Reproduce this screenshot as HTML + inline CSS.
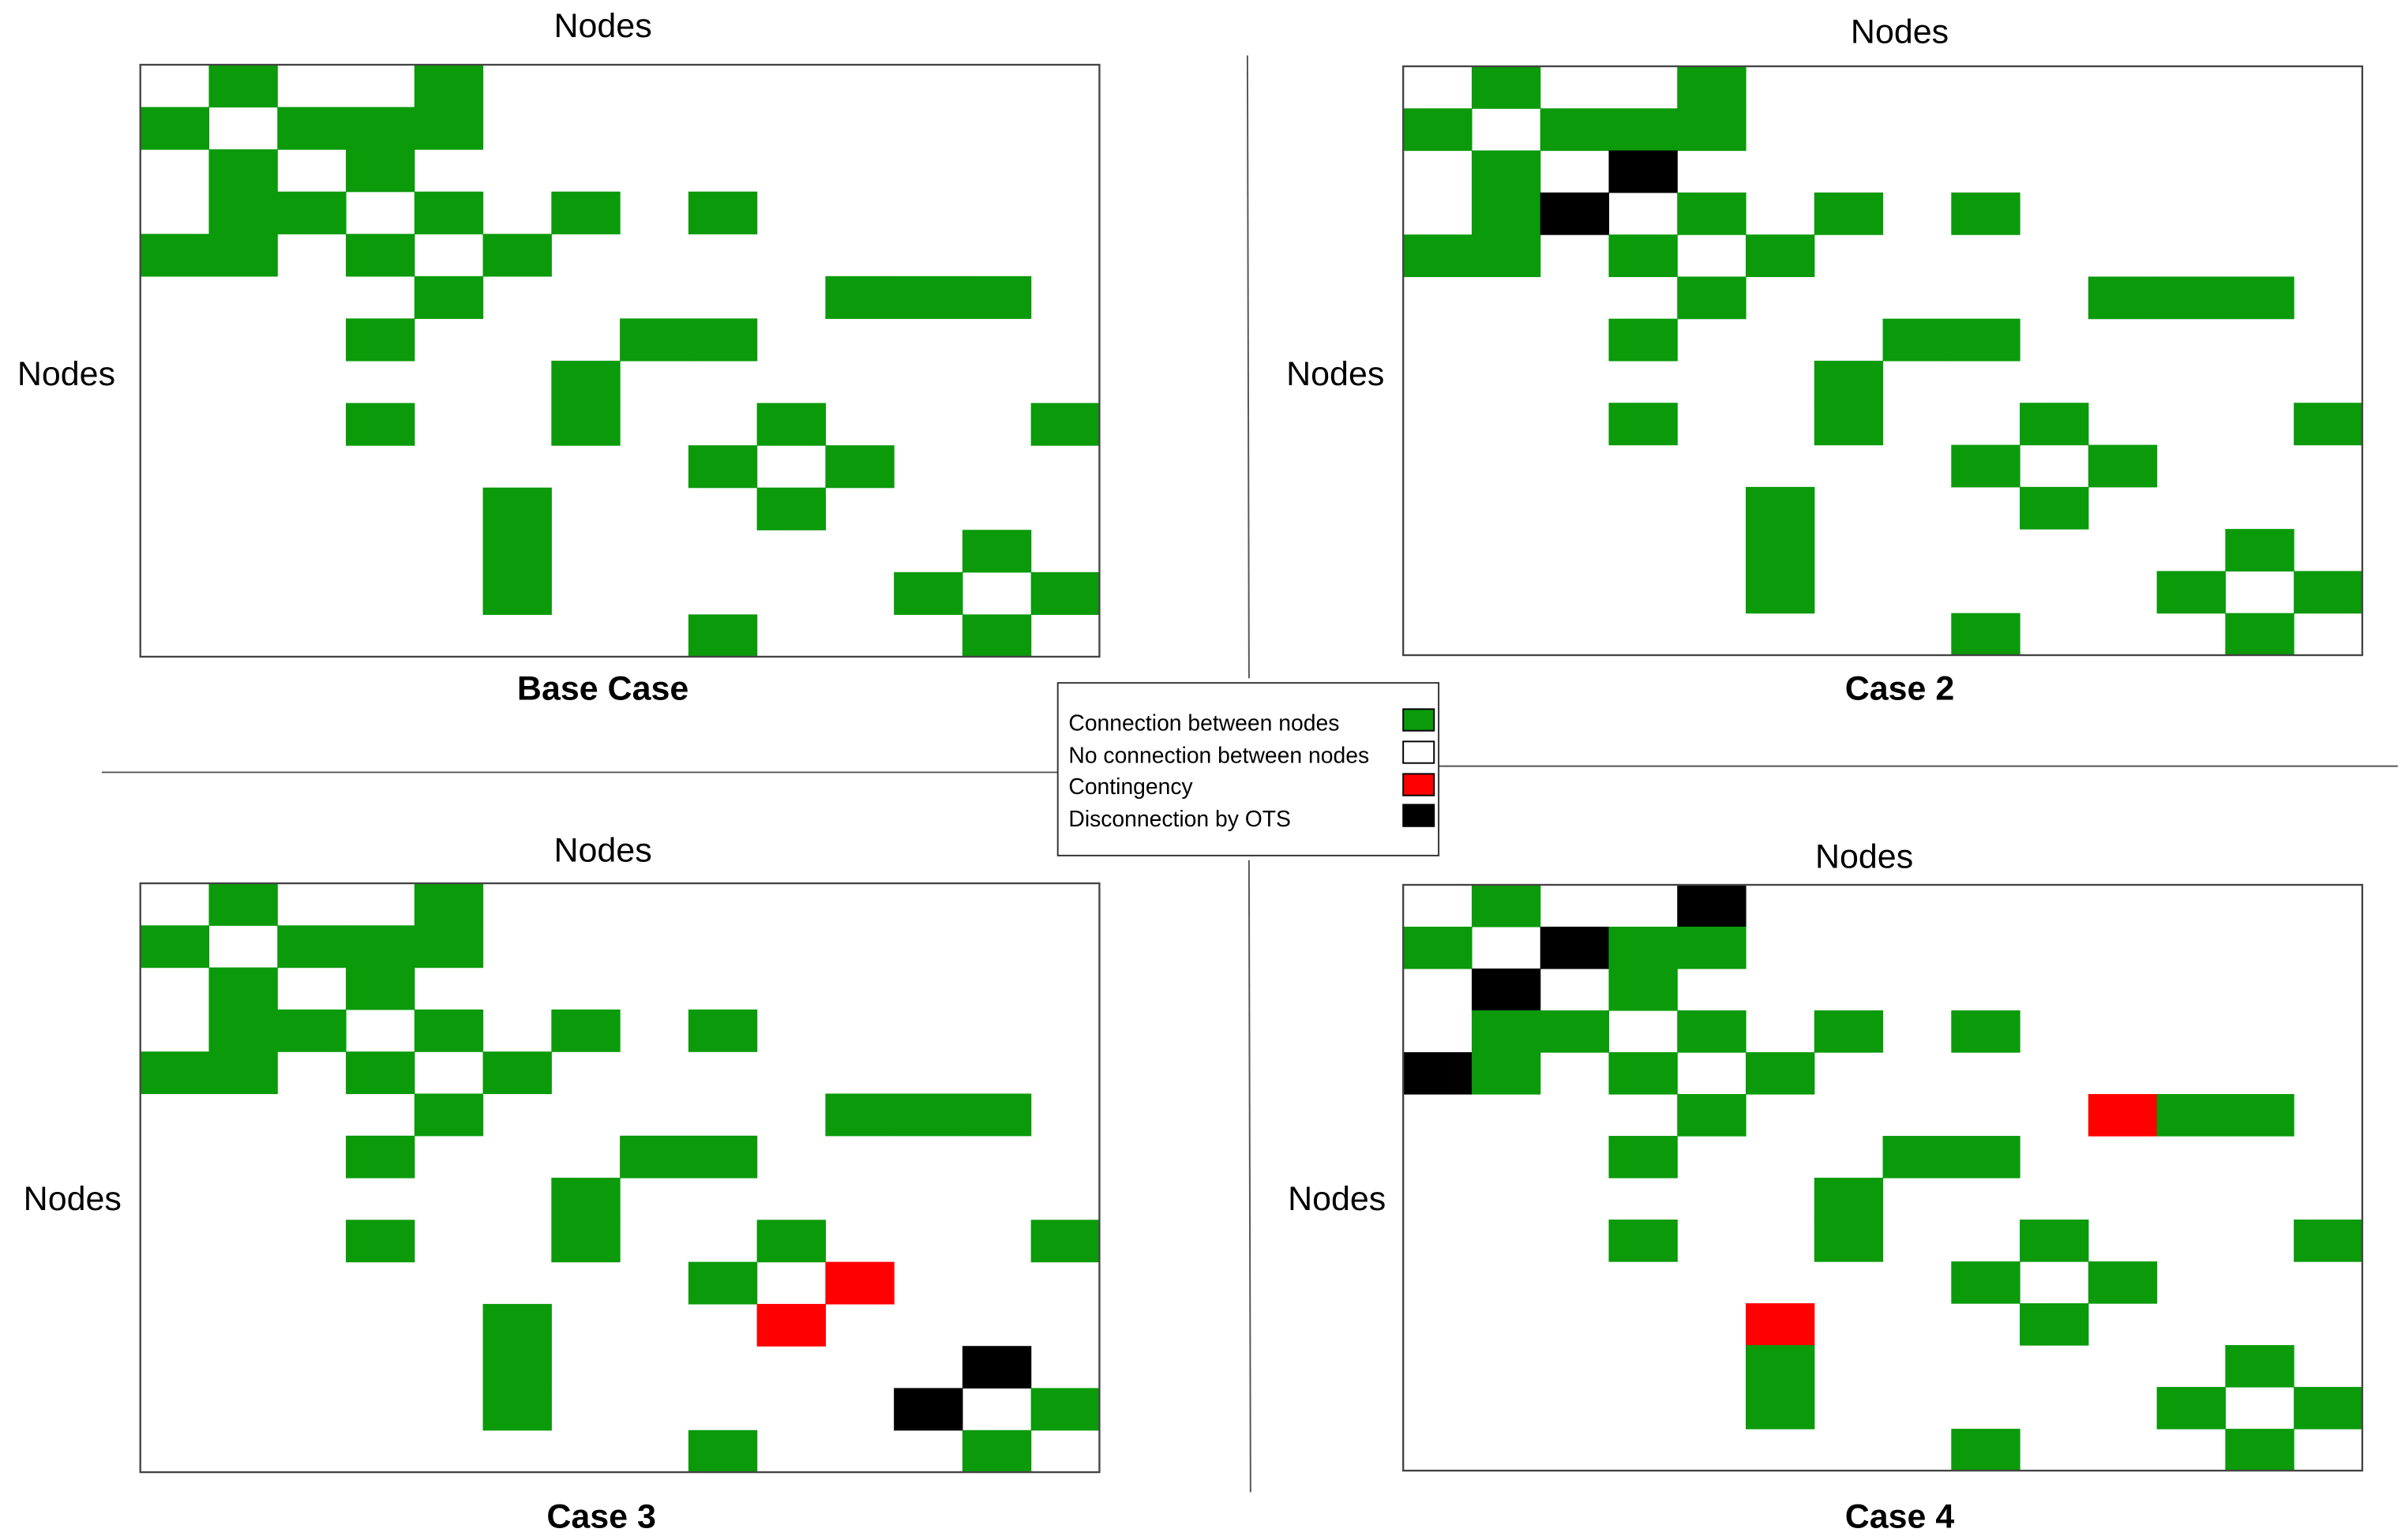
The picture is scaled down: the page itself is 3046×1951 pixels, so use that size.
<!DOCTYPE html>
<html><head><meta charset="utf-8"><style>
html,body{margin:0;padding:0;background:#fff;}
svg{display:block;}
text{font-family:"Liberation Sans",sans-serif;fill:#000;}
</style></head><body>
<svg id="chart" width="3046" height="1951" viewBox="0 0 1559.7 999" preserveAspectRatio="none" xmlns="http://www.w3.org/2000/svg">
<line x1="809" y1="36" x2="810" y2="440" stroke="#555" stroke-width="1"/>
<line x1="810" y1="558" x2="811" y2="968" stroke="#555" stroke-width="1"/>
<line x1="66" y1="501" x2="686" y2="501" stroke="#555" stroke-width="1"/>
<line x1="933" y1="497" x2="1555" y2="497" stroke="#555" stroke-width="1"/>
<g id="panels"></g>
<g>
<rect x="686" y="443" width="247" height="112" fill="#fff" stroke="#333" stroke-width="1"/>
<text x="693" y="474" font-size="14.5">Connection between nodes</text>
<rect x="910" y="460" width="20" height="14" fill="#0a9a0a" stroke="#000" stroke-width="1"/>
<text x="693" y="495" font-size="14.5">No connection between nodes</text>
<rect x="910" y="481" width="20" height="14" fill="#fff" stroke="#000" stroke-width="1"/>
<text x="693" y="515" font-size="14.5">Contingency</text>
<rect x="910" y="502" width="20" height="14" fill="#ff0000" stroke="#000" stroke-width="1"/>
<text x="693" y="536" font-size="14.5">Disconnection by OTS</text>
<rect x="910" y="522" width="20" height="14" fill="#000" stroke="#000" stroke-width="1"/>
</g>
</svg>
<script>
// Base adjacency (undirected edges between 14 nodes)
const nodeCount = 14;
const baseEdges = [[0,1],[0,4],[1,2],[1,3],[1,4],[2,3],[3,4],[3,6],[3,8],[4,5],[5,10],[5,11],[5,12],[6,7],[6,8],[8,9],[8,13],[9,10],[11,12],[12,13]];
const case2Disconnected = [[2,3]];
const case2Contingency = [];
const case3Disconnected = [[11,12]];
const case3Contingency = [[9,10]];
const case4Disconnected = [[0,4],[1,2]];
const case4Contingency = [[5,10]];
const panelTitles = ["Base Case","Case 2","Case 3","Case 4"];

const NS = "http://www.w3.org/2000/svg";
const panelsG = document.getElementById('panels');
const layouts = [
 {x0:91,y0:42,x1:713,y1:426,tx:391,ty:24,lx:43,ly:250,bx:391,by:454},
 {x0:910,y0:43,x1:1532,y1:425,tx:1232,ty:28,lx:866,ly:250,bx:1232,by:454},
 {x0:91,y0:573,x1:713,y1:955,tx:391,ty:559,lx:47,ly:785,bx:390,by:991},
 {x0:910,y0:574,x1:1532,y1:954,tx:1209,ty:563,lx:867,ly:785,bx:1232,by:991}
];
const disc = [[],case2Disconnected,case3Disconnected,case4Disconnected];
const cont = [[],case2Contingency,case3Contingency,case4Contingency];

function mk(tag, attrs){const e=document.createElementNS(NS,tag);for(const k in attrs)e.setAttribute(k,attrs[k]);return e;}
function key(a,b){return Math.min(a,b)+'-'+Math.max(a,b);}

layouts.forEach((L,p)=>{
  const g = mk('g',{});
  
  
  const xs = c => L.x0 + c*(L.x1-L.x0)/nodeCount;
  const ys = r => L.y0 + r*(L.y1-L.y0)/nodeCount;
  const status = {};
  baseEdges.forEach(([a,b])=>status[key(a,b)]='#0a9a0a');
  disc[p].forEach(([a,b])=>status[key(a,b)]='#000');
  cont[p].forEach(([a,b])=>status[key(a,b)]='#ff0000');
  for(let r=0;r<nodeCount;r++)for(let c=0;c<nodeCount;c++){
    const col = status[key(r,c)];
    if(!col || r===c) continue;
    const cell = mk('rect',{x:xs(c),y:ys(r),width:xs(c+1)-xs(c)+0.3,height:ys(r+1)-ys(r)+0.3,fill:col});
    
    
    g.appendChild(cell);
  }
  const box = mk('rect',{x:L.x0,y:L.y0,width:L.x1-L.x0,height:L.y1-L.y0,fill:'none',stroke:'#444','stroke-width':1.2});
  
  
  g.appendChild(box);
  const t = mk('text',{x:L.tx,y:L.ty,'font-size':22,'text-anchor':'middle'});t.textContent='Nodes';
  
  
  g.appendChild(t);
  const yl = mk('text',{x:L.lx,y:L.ly,'font-size':22,'text-anchor':'middle'});yl.textContent='Nodes';
  
  
  g.appendChild(yl);
  const bt = mk('text',{x:L.bx,y:L.by,'font-size':22,'font-weight':'bold','text-anchor':'middle'});bt.textContent=panelTitles[p];
  
  
  g.appendChild(bt);
  panelsG.appendChild(g);
});
</script>
</body></html>
